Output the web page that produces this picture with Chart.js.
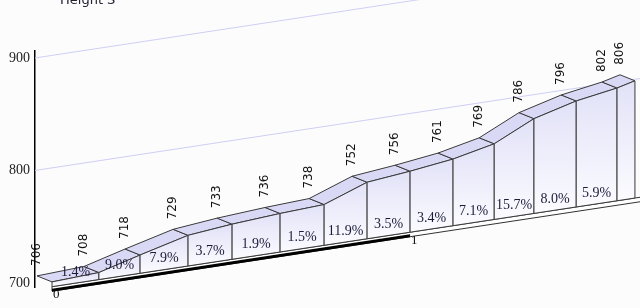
<!DOCTYPE html>
<html>
  <head>
    <title>Height profile</title>
    <script src="https://cdn.jsdelivr.net/npm/chart.js@4.4.0/dist/chart.umd.min.js"></script>
    <style>
      body { margin: 0; background: #fcfcfd; }
      canvas { display: block; }
    </style>
  </head>
  <body>
    <canvas id="canvas" width="640" height="308"></canvas>
    <script>
      // profile points: distance along the route (km) and height (m)
      const distKm = [0, 0.131, 0.246, 0.38, 0.503, 0.637, 0.76, 0.88, 1.0, 1.12, 1.235, 1.346, 1.464, 1.578, 1.628];
      const heights = [706, 708, 718, 729, 733, 736, 738, 752, 756, 761, 769, 786, 796, 802, 806];
      // gradient label of each segment (last one is too narrow, no label)
      const grades = ['1.4%', '9.0%', '7.9%', '3.7%', '1.9%', '1.5%', '11.9%', '3.5%', '3.4%', '7.1%', '15.7%', '8.0%', '5.9%', ''];
      const kmTicks = [0, 1];
      const heightTicks = [700, 800, 900];

      // oblique projection used for the pseudo 3D look
      const skew = -0.152;
      const depthX = 15;
      const depthY = 6;

      const profile3d = {
        id: 'profile3d',
        beforeDraw(chart) {
          const ctx = chart.ctx;
          ctx.save();
          ctx.fillStyle = '#fcfcfd';
          ctx.fillRect(0, 0, chart.width, chart.height);
          ctx.fillStyle = '#223';
          ctx.font = '13px "DejaVu Sans"';
          ctx.textBaseline = 'alphabetic';
          ctx.fillText('Height S', 60, 4);
          ctx.restore();
        },
        afterDatasetsDraw(chart) {
          const ctx = chart.ctx;
          const xs = chart.scales.x;
          const ys = chart.scales.y;
          const left = chart.chartArea.left;
          const sk = (x) => skew * (x - left);
          const floorY = ys.getPixelForValue(heightTicks[0]);
          const floorFront = (xf) => floorY + sk(xf - depthX) + depthY;

          ctx.save();
          // skewed grid lines on the back wall
          ctx.strokeStyle = '#cfcff4';
          ctx.lineWidth = 1;
          heightTicks.slice(1).forEach((v) => {
            const y0 = ys.getPixelForValue(v);
            ctx.beginPath();
            ctx.moveTo(left, y0);
            ctx.lineTo(chart.width, y0 + sk(chart.width));
            ctx.stroke();
          });

          const meta = chart.getDatasetMeta(0);
          const back = meta.data.map((p) => ({ x: p.x, y: p.y + sk(p.x) }));
          const front = back.map((p) => ({ x: p.x + depthX, y: p.y + depthY }));

          // floor slab with km ruler
          const x0 = xs.getPixelForValue(kmTicks[0]) + depthX;
          const x1 = xs.getPixelForValue(kmTicks[1]) + depthX;
          const xe = xs.getPixelForValue(xs.max) + depthX;
          ctx.fillStyle = '#ffffff';
          ctx.strokeStyle = '#333';
          ctx.beginPath();
          ctx.moveTo(x0, floorFront(x0) - 2);
          ctx.lineTo(xe, floorFront(xe) - 2);
          ctx.lineTo(xe, floorFront(xe) + 2.5);
          ctx.lineTo(x0, floorFront(x0) + 2.5);
          ctx.closePath();
          ctx.fill();
          ctx.stroke();
          ctx.fillStyle = '#000';
          ctx.beginPath();
          ctx.moveTo(x0, floorFront(x0));
          ctx.lineTo(x1, floorFront(x1));
          ctx.lineTo(x1, floorFront(x1) + 3);
          ctx.lineTo(x0, floorFront(x0) + 3);
          ctx.closePath();
          ctx.fill();

          ctx.lineWidth = 1;
          ctx.strokeStyle = '#3a3a3a';
          for (let i = 0; i < back.length - 1; i++) {
            const a = back[i], b = back[i + 1], fa = front[i], fb = front[i + 1];
            // top face
            ctx.fillStyle = '#d9d9f6';
            ctx.beginPath();
            ctx.moveTo(a.x, a.y);
            ctx.lineTo(b.x, b.y);
            ctx.lineTo(fb.x, fb.y);
            ctx.lineTo(fa.x, fa.y);
            ctx.closePath();
            ctx.fill();
            ctx.stroke();
            // front face
            const ba = floorFront(fa.x) - 2;
            const bb = floorFront(fb.x) - 2;
            const g = ctx.createLinearGradient(0, Math.min(fa.y, fb.y), 0, Math.max(ba, bb));
            g.addColorStop(0, '#e2e2f8');
            g.addColorStop(1, '#fbfbff');
            ctx.fillStyle = g;
            ctx.beginPath();
            ctx.moveTo(fa.x, fa.y);
            ctx.lineTo(fb.x, fb.y);
            ctx.lineTo(fb.x, bb);
            ctx.lineTo(fa.x, ba);
            ctx.closePath();
            ctx.fill();
            ctx.stroke();
          }

          // gradient labels
          ctx.fillStyle = '#1c1c3a';
          ctx.font = '14px "Liberation Serif"';
          ctx.textAlign = 'center';
          ctx.textBaseline = 'middle';
          for (let i = 0; i < grades.length; i++) {
            if (!grades[i]) continue;
            const cx = (front[i].x + front[i + 1].x) / 2;
            ctx.fillText(grades[i], cx, floorFront(cx) - 13);
          }

          // height labels, rotated
          ctx.fillStyle = '#111';
          ctx.font = '12px "DejaVu Sans"';
          ctx.textAlign = 'left';
          back.forEach((p, i) => {
            ctx.save();
            ctx.translate(p.x, p.y - 10);
            ctx.rotate(-Math.PI / 2);
            ctx.fillText(String(heights[i]), 0, 0);
            ctx.restore();
          });

          // km labels
          ctx.font = '13px "Liberation Serif"';
          kmTicks.forEach((k) => {
            const xf = xs.getPixelForValue(k) + depthX;
            ctx.fillText(String(k), xf + 1, floorFront(xf) + 6);
          });
          ctx.restore();
        },
      };

      const ctx = document.getElementById('canvas').getContext('2d');
      window.profileChart = new Chart(ctx, {
        type: 'line',
        data: {
          datasets: [
            {
              label: 'Height',
              data: distKm.map((d, i) => ({ x: d, y: heights[i] })),
              showLine: false,
              pointRadius: 0,
            },
          ],
        },
        options: {
          responsive: false,
          animation: false,
          devicePixelRatio: 1,
          layout: { padding: { top: 51, bottom: 21, left: 0, right: 0 } },
          scales: {
            x: { type: 'linear', display: false, min: -0.0056, max: 1.684 },
            y: {
              min: 696.4,
              max: 906.2,
              afterFit(scale) {
                scale.width = 35;
              },
              afterBuildTicks(scale) {
                scale.ticks = heightTicks.map((v) => ({ value: v }));
              },
              grid: { display: false, drawTicks: false },
              border: { display: true, color: '#000', width: 1.5 },
              ticks: {
                padding: 5,
                color: '#222',
                font: { family: 'Liberation Serif', size: 14 },
              },
            },
          },
          plugins: {
            legend: { display: false },
            tooltip: { enabled: false },
          },
        },
        plugins: [profile3d],
      });
    </script>
  </body>
</html>
